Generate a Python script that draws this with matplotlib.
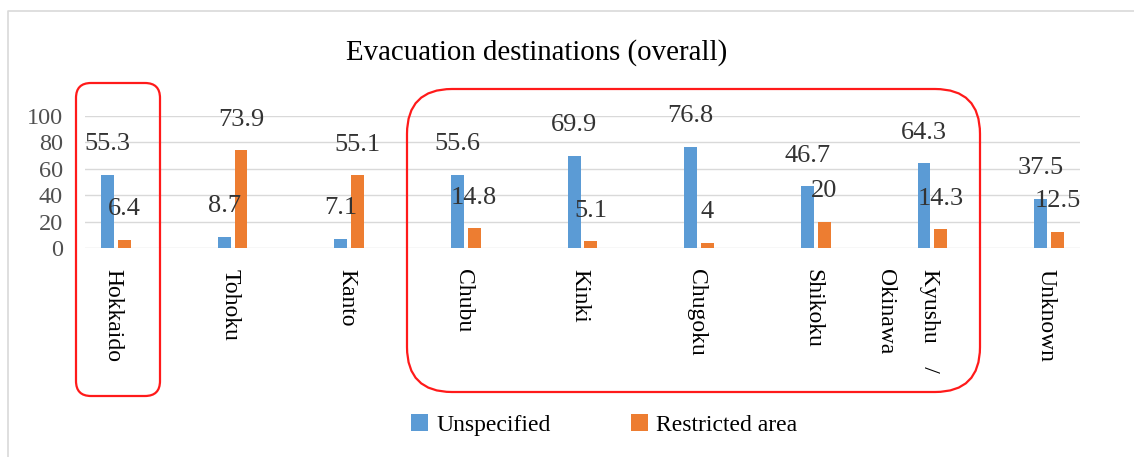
import numpy as np
from matplotlib import pyplot as plt
from matplotlib.patches import FancyBboxPatch
from matplotlib.lines import Line2D
from matplotlib.transforms import IdentityTransform

plt.rcParams['font.family'] = ['Liberation Serif', 'DejaVu Serif']

regions = ["Hokkaido", "Tohoku", "Kanto", "Chubu", "Kinki",
           "Chugoku", "Shikoku", "Kyushu / Okinawa", "Unknown"]
unspecified = [55.3, 8.7, 7.1, 55.6, 69.9, 76.8, 46.7, 64.3, 37.5]
restricted = [6.4, 73.9, 55.1, 14.8, 5.1, 4, 20, 14.3, 12.5]
y_ticks = [0, 20, 40, 60, 80, 100]

BLUE = '#5B9BD5'
ORANGE = '#ED7D31'
W, H = 1134, 457

fig = plt.figure(figsize=(W / 100, H / 100), dpi=100)
ax = fig.add_axes([85 / W, 1 - 248 / H, (1080 - 85) / W, (248 - 116) / H])

x = np.arange(len(regions))
off, bw = 0.072, 0.11
b1 = ax.bar(x - off, unspecified, bw, color=BLUE, label='Unspecified', zorder=2)
b2 = ax.bar(x + off, restricted, bw, color=ORANGE, label='Restricted area', zorder=2)

# data labels, Excel style: sitting well above each bar
for bars, vals in ((b1, unspecified), (b2, restricted)):
    for rect, v in zip(bars, vals):
        ax.annotate(f'{v:g}', (rect.get_x() + rect.get_width() / 2, v),
                    xytext=(0, 22), textcoords='offset points',
                    ha='center', va='center', fontsize=19, color='#333333', zorder=3)

ax.set_xlim(-0.266, len(regions) - 1 + 0.266)
ax.set_ylim(0, 100)
ax.set_yticks(y_ticks)
ax.yaxis.grid(True, color='#d9d9d9', linewidth=1)
ax.set_axisbelow(True)
ax.set_xticks([])
ax.tick_params(axis='y', length=0, pad=16, labelsize=17.5, labelcolor='#505050')
for s in ax.spines.values():
    s.set_visible(False)

# vertical category labels
for i, name in enumerate(regions):
    parts = name.split(' / ')
    first = parts[0] + ('    /' if len(parts) > 1 else '')
    ax.annotate(first, (i, 0), xycoords=('data', 'axes fraction'),
                xytext=(-2, -15), textcoords='offset points',
                rotation=-90, rotation_mode='anchor', ha='left', va='center',
                fontsize=17)
    if len(parts) > 1:
        ax.annotate(parts[1], (i, 0), xycoords=('data', 'axes fraction'),
                    xytext=(-34, -15), textcoords='offset points',
                    rotation=-90, rotation_mode='anchor', ha='left', va='center',
                    fontsize=17)

fig.text(537 / W, 1 - 53 / H, 'Evacuation destinations (overall)',
         ha='center', va='center', fontsize=20.8)

fig.legend(handles=[b1, b2], loc='center', bbox_to_anchor=(604 / W, 1 - 425 / H),
           ncol=2, frameon=False, fontsize=17, handlelength=0.72, handleheight=0.72,
           handletextpad=0.36, columnspacing=3.4)

# red highlight boxes (pixel coords)
for x0, y0, x1, y1, r in ((76, 83, 160, 396, 15), (407, 89, 980, 392, 45)):
    fig.patches.append(FancyBboxPatch((x0, H - y1), x1 - x0, y1 - y0,
                                      boxstyle=f'round,pad=0,rounding_size={r}',
                                      fill=False, edgecolor='#ff1a1a', linewidth=1.6,
                                      transform=IdentityTransform(), figure=fig))

# light frame (top and left edges of the chart area)
fig.lines.append(Line2D([8, 8, W], [0, H - 11, H - 11], color='#d9d9d9',
                        linewidth=1.2, transform=IdentityTransform(), figure=fig))

fig.savefig('out.png', dpi=100)
